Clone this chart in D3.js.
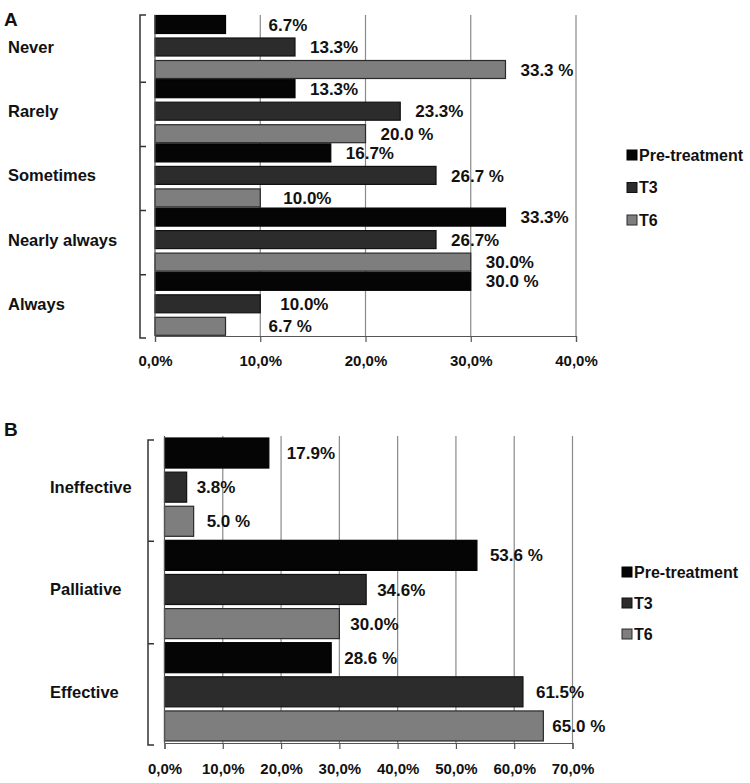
<!DOCTYPE html>
<html>
<head>
<meta charset="utf-8">
<script src="https://cdn.jsdelivr.net/npm/d3@7"></script>
<style>
  html, body { margin: 0; padding: 0; background: #fff; }
  svg { display: block; font-family: "Liberation Sans", Arial, sans-serif; font-weight: bold; }
</style>
</head>
<body>
<svg id="chart" width="750" height="783"></svg>
<script>
// ---------------- DATA ----------------
const seriesNames = ["Pre-treatment", "T3", "T6"];

// Panel A
const categoriesA = ["Never", "Rarely", "Sometimes", "Nearly always", "Always"];
const preA = [6.7, 13.3, 16.7, 33.3, 30.0];
const t3A  = [13.3, 23.3, 26.7, 26.7, 10.0];
const t6A  = [33.3, 20.0, 10.0, 30.0, 6.7];
const preLabelsA = ["6.7%", "13.3%", "16.7%", "33.3%", "30.0 %"];
const t3LabelsA  = ["13.3%", "23.3%", "26.7 %", "26.7%", "10.0%"];
const t6LabelsA  = ["33.3 %", "20.0 %", "10.0%", "30.0%", "6.7 %"];
const ticksA = [0, 10, 20, 30, 40];

// Panel B
const categoriesB = ["Ineffective", "Palliative", "Effective"];
const preB = [17.9, 53.6, 28.6];
const t3B  = [3.8, 34.6, 61.5];
const t6B  = [5.0, 30.0, 65.0];
const preLabelsB = ["17.9%", "53.6 %", "28.6 %"];
const t3LabelsB  = ["3.8%", "34.6%", "61.5%"];
const t6LabelsB  = ["5.0 %", "30.0%", "65.0 %"];
const ticksB = [0, 10, 20, 30, 40, 50, 60, 70];

// ---------------- STYLE / LAYOUT ----------------
const fills   = { "Pre-treatment": "#050505", "T3": "#2c2c2c", "T6": "#7e7e7e" };
const strokes = { "Pre-treatment": "#000000", "T3": "#111111", "T6": "#2a2a2a" };
const tickFmt = d => d.toFixed(1).replace(".", ",") + "%";

// label nudges (horizontal offsets from bar end), layout only
const nudgeA = { "Never|Pre-treatment": 43, "Always|T6": 43, "Sometimes|T6": 23, "Always|T3": 20 };
const nudgeB = { "Ineffective|Pre-treatment": 18, "Ineffective|T3": 10, "Palliative|T3": 11, "Palliative|T6": 11, "Effective|T6": 9 };

const svg = d3.select("#chart");

function panel(cfg) {
  const g = svg.append("g");
  const x = d3.scaleLinear().domain(cfg.xDomain).range([cfg.x0, cfg.x1]);
  const y = d3.scaleBand().domain(cfg.categories).range([cfg.y0, cfg.y1]);
  const ys = d3.scaleBand().domain(seriesNames).range(cfg.innerRange).paddingInner(cfg.innerPad);

  // gridlines
  g.append("g").selectAll("line").data(cfg.ticks.filter(t => t > 0)).join("line")
    .attr("x1", d => x(d)).attr("x2", d => x(d))
    .attr("y1", cfg.y0).attr("y2", cfg.y1)
    .attr("stroke", "#8a8a8a").attr("stroke-width", 1.2);

  // bars
  const rows = [];
  cfg.categories.forEach((c, i) => {
    seriesNames.forEach((s, j) => {
      rows.push({ cat: c, ser: s, v: cfg.values[j][i], label: cfg.labels[j][i] });
    });
  });
  g.append("g").selectAll("rect").data(rows).join("rect")
    .attr("x", x(0))
    .attr("y", d => y(d.cat) + ys(d.ser))
    .attr("width", d => x(d.v) - x(0))
    .attr("height", ys.bandwidth())
    .attr("fill", d => fills[d.ser])
    .attr("stroke", d => strokes[d.ser])
    .attr("stroke-width", 1.2);

  // value labels
  g.append("g").selectAll("text").data(rows).join("text")
    .attr("x", d => x(d.v) + (cfg.nudge[d.cat + "|" + d.ser] ?? cfg.defaultDx))
    .attr("y", d => y(d.cat) + ys(d.ser) + ys.bandwidth() / 2)
    .attr("dy", "0.36em")
    .attr("font-size", 17).attr("fill", "#111")
    .text(d => d.label);

  // y axis line
  g.append("line").attr("x1", x(0)).attr("x2", x(0)).attr("y1", cfg.y0).attr("y2", cfg.y1)
    .attr("stroke", "#555").attr("stroke-width", 1.2);

  // x axis
  const ax = g.append("g").attr("transform", `translate(0,${cfg.y1})`)
    .call(d3.axisBottom(x).tickValues(cfg.ticks).tickFormat(tickFmt).tickSize(6).tickPadding(cfg.tickPad));
  ax.select(".domain").attr("stroke", "#555").attr("stroke-width", 1.2);
  ax.selectAll(".tick line").attr("stroke", "#555").attr("stroke-width", 1.2);
  ax.selectAll(".tick text").attr("font-size", 15).attr("fill", "#111")
    .attr("font-family", "Liberation Sans, Arial, sans-serif").attr("font-weight", "bold");

  // bracket
  const bx = cfg.bracketX;
  const bounds = cfg.categories.map(c => y(c)).concat([cfg.y1]);
  let p = `M${bx + 6},${cfg.y0 + cfg.bracketTop}H${bx}V${cfg.y1 + 2}H${bx + 6}`;
  bounds.slice(1, -1).forEach(b => { p += `M${bx},${b + 3}H${bx + 6}`; });
  g.append("path").attr("d", p).attr("fill", "none").attr("stroke", "#333").attr("stroke-width", 1.5);

  // category labels
  g.append("g").selectAll("text").data(cfg.categories).join("text")
    .attr("x", cfg.catX)
    .attr("y", d => y(d) + y.bandwidth() / 2)
    .attr("dy", "0.36em")
    .attr("font-size", 16.5).attr("fill", "#111")
    .text(d => d);

  // legend
  const lg = g.append("g");
  seriesNames.forEach((s, i) => {
    const ly = cfg.legendY + i * cfg.legendStep;
    lg.append("rect").attr("x", cfg.legendX).attr("y", ly - 5).attr("width", 10).attr("height", 10)
      .attr("fill", fills[s]).attr("stroke", strokes[s]).attr("stroke-width", 1);
    lg.append("text").attr("x", cfg.legendX + 12).attr("y", ly).attr("dy", "0.36em")
      .attr("font-size", 16).attr("fill", "#111").text(s);
  });

  // panel letter
  g.append("text").attr("x", 4).attr("y", cfg.letterY).attr("font-size", 19).attr("fill", "#111").text(cfg.letter);
}

panel({
  letter: "A", letterY: 26,
  categories: categoriesA,
  values: [preA, t3A, t6A],
  labels: [preLabelsA, t3LabelsA, t6LabelsA],
  ticks: ticksA, xDomain: [0, 40],
  x0: 155, x1: 576, y0: 15, y1: 336,
  innerRange: [0.5, 63.5], innerPad: 0.2,
  tickPad: 13, catX: 8, bracketX: 140, bracketTop: 0,
  nudge: nudgeA, defaultDx: 15,
  legendX: 627, legendY: 155, legendStep: 32.5
});

panel({
  letter: "B", letterY: 436,
  categories: categoriesB,
  values: [preB, t3B, t6B],
  labels: [preLabelsB, t3LabelsB, t6LabelsB],
  ticks: ticksB, xDomain: [0, 70],
  x0: 164.5, x1: 572.5, y0: 436, y1: 743,
  innerRange: [2, 100.3], innerPad: 0.12,
  tickPad: 14, catX: 50, bracketX: 148, bracketTop: 4,
  nudge: nudgeB, defaultDx: 13,
  legendX: 622, legendY: 572, legendStep: 31
});
</script>
</body>
</html>
